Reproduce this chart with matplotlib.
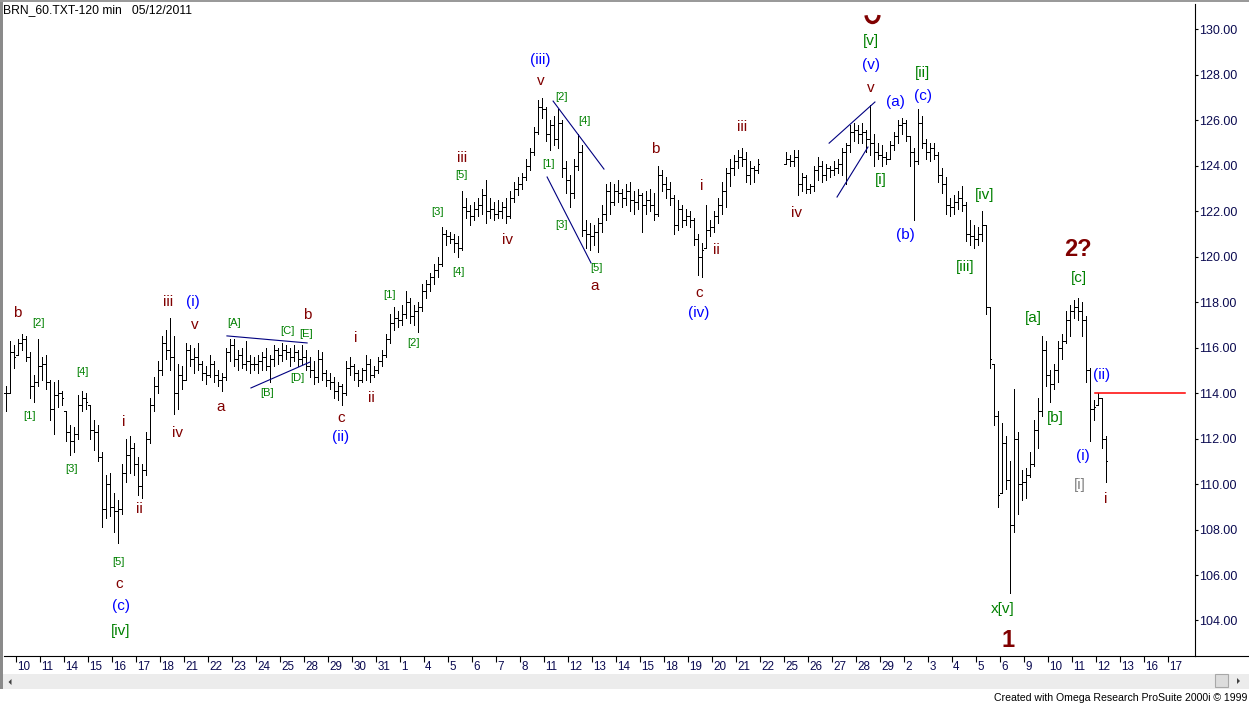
import matplotlib

matplotlib.use("Agg")
import matplotlib.pyplot as plt
import numpy as np
from matplotlib import font_manager
from matplotlib.collections import LineCollection
from matplotlib.lines import Line2D
from matplotlib.patches import Arc, Polygon, Rectangle
from matplotlib.transforms import ScaledTranslation


W, H = 1249, 705

TITLE = "BRN_60.TXT-120 min   05/12/2011"
CREDIT = "Created with Omega Research ProSuite 2000i \u00a9 1999"

# trading days on the x axis (10 Mar .. 17 May 2011)
DAY_LABELS = [
    "10", "11", "14", "15", "16", "17", "18", "21", "22", "23", "24", "25",
    "28", "29", "30", "31",
    "1", "4", "5", "6", "7", "8", "11", "12", "13", "14", "15", "18", "19",
    "20", "21", "22", "25", "26", "27", "28", "29",
    "2", "3", "4", "5", "6", "9", "10", "11", "12", "13", "16", "17",
]
Y_TICKS = [104, 106, 108, 110, 112, 114, 116, 118, 120, 122, 124, 126, 128, 130]

# bars per trading day and contiguous runs: (day index, first slot, bar count)
BARS_PER_DAY = 6
RUNS = [(-1, 3, 189), (32, 0, 81)]

HIGHS = [
    114.3, 116.3, 116.1,
    116.4, 116.6, 116.5, 115.8, 114.8, 116.4,
    115.6, 115.7, 114.6, 114.5, 114.6, 114.1,
    113.2, 112.6, 112.5, 113.9, 114.1, 114.0,
    113.5, 112.8, 112.6, 111.4, 110.4, 110.5,
    109.6, 109.3, 110.9, 112.0, 112.1, 111.8,
    111.2, 110.9, 112.3, 113.8, 114.7, 115.4,
    116.5, 116.8, 117.3, 116.5, 115.3, 115.2,
    116.2, 116.1, 116.0, 116.2, 115.4, 115.2,
    115.7, 115.4, 115.0, 114.9, 116.0, 116.4,
    116.4, 115.9, 116.0, 116.3, 115.7, 115.6,
    115.7, 115.8, 116.0, 115.7, 116.1, 116.0,
    116.2, 116.1, 116.0, 116.1, 115.9, 116.1,
    115.9, 115.6, 115.4, 115.9, 115.8, 115.0,
    114.9, 114.7, 114.5, 114.4, 115.4, 115.6,
    115.3, 115.0, 115.1, 115.7, 115.5, 115.2,
    115.6, 115.9, 116.6, 117.5, 117.8, 117.6,
    117.9, 118.5, 118.2, 117.9, 118.0, 118.8,
    119.0, 119.3, 119.7, 120.0, 121.3, 121.2,
    121.1, 121.0, 120.9, 122.9, 122.6, 122.3,
    122.4, 122.6, 123.0, 123.4, 122.6, 122.4,
    122.5, 122.4, 122.6, 122.9, 123.3, 123.5,
    123.7, 124.3, 124.8, 125.7, 126.9, 127.0,
    126.6, 126.0, 126.2, 126.5, 126.0, 124.2,
    123.6, 124.3, 125.4, 124.9, 121.6, 121.5,
    121.4, 121.7, 122.3, 123.2, 123.3, 123.2,
    123.4, 123.0, 123.2, 123.3, 122.9, 123.0,
    122.8, 122.9, 123.0, 122.8, 124.0, 123.8,
    123.5, 123.3, 122.7, 122.5, 122.3, 122.1,
    122.0, 121.7, 121.0, 120.6, 122.3, 121.6,
    122.0, 122.6, 123.3, 123.9, 124.3, 124.5,
    124.7, 124.8, 124.6, 124.2, 124.0, 124.3,
    # after Easter
    124.6, 124.5, 124.7, 124.7, 123.7, 123.6,
    123.2, 124.0, 124.4, 124.2, 124.1, 124.0,
    124.2, 124.3, 124.8, 125.0, 125.8, 125.9,
    125.8, 125.9, 125.6, 126.7, 125.4, 125.0,
    124.9, 124.6, 125.1, 125.5, 126.0, 126.1,
    126.0, 125.3, 124.8, 126.5, 126.2, 125.2,
    125.0, 125.0, 124.6, 123.9, 123.5, 122.6,
    122.7, 122.9, 123.1, 122.4, 121.6, 121.4,
    121.3, 122.0, 121.4, 117.8, 115.3, 113.2,
    112.7, 112.1, 111.0, 114.2, 112.3, 110.6,
    110.7, 111.4, 112.8, 113.8, 116.5, 116.3,
    115.0, 115.3, 116.3, 116.6, 117.6, 117.9,
    118.1, 118.2, 118.0, 117.4, 115.1, 113.7,
    114.0, 113.8, 112.1,
]

LOWS = [
    113.2, 114.0, 115.1,
    115.7, 115.9, 115.4, 113.8, 113.6, 114.3,
    114.6, 114.2, 112.8, 112.2, 113.4, 113.5,
    111.9, 111.3, 111.4, 112.0, 113.2, 113.3,
    112.0, 111.5, 111.0, 108.1, 108.5, 108.6,
    107.9, 107.4, 108.7, 110.1, 110.5, 110.4,
    109.5, 109.4, 110.4, 111.8, 113.2, 114.0,
    114.8, 115.5, 115.0, 113.1, 113.3, 114.2,
    114.6, 115.2, 114.9, 115.0, 114.6, 114.4,
    114.7, 114.5, 114.3, 114.1, 114.6, 115.4,
    115.2, 115.0, 115.1, 115.0, 114.9, 115.0,
    114.9, 115.0, 115.0, 114.5, 115.2, 115.3,
    115.4, 115.5, 115.2, 115.4, 115.2, 115.3,
    115.0, 114.7, 114.4, 114.5, 114.6, 114.3,
    114.2, 113.8, 113.7, 113.5, 113.9, 114.8,
    114.6, 114.3, 114.5, 114.6, 114.5, 114.7,
    114.9, 115.2, 115.6, 116.2, 116.8, 116.9,
    117.0, 117.3, 117.1, 117.0, 116.7, 117.6,
    118.2, 118.5, 118.8, 119.1, 119.6, 120.5,
    120.6, 120.2, 120.0, 120.3, 121.7, 121.4,
    121.6, 121.8, 121.9, 121.5, 121.7, 121.6,
    121.7, 121.7, 121.5, 121.7, 122.4, 122.7,
    123.0, 123.4, 123.8, 124.5, 125.4, 126.1,
    125.1, 124.7, 124.9, 124.8, 123.5, 122.8,
    122.2, 122.6, 123.8, 120.9, 120.4, 120.3,
    120.5, 120.2, 121.1, 121.6, 121.9, 122.3,
    122.4, 122.2, 122.3, 122.0, 121.9, 122.1,
    121.1, 121.9, 122.0, 121.6, 121.8, 122.9,
    122.6, 122.3, 121.0, 121.2, 121.3, 121.4,
    121.3, 120.5, 119.2, 119.1, 120.4, 120.9,
    121.1, 121.5, 121.9, 122.2, 123.1, 123.6,
    123.9, 124.0, 123.3, 123.2, 123.3, 123.7,
    # after Easter
    124.1, 124.0, 124.0, 122.7, 122.9, 122.8,
    122.8, 122.9, 123.4, 123.3, 123.4, 123.5,
    123.6, 123.7, 123.6, 123.2, 124.6, 125.1,
    125.0, 125.0, 124.6, 124.5, 124.0, 124.3,
    124.0, 124.1, 124.3, 124.7, 125.0, 125.4,
    125.1, 124.0, 121.6, 124.1, 124.8, 124.3,
    124.2, 124.3, 123.3, 122.8, 121.9, 121.8,
    121.9, 122.1, 122.0, 120.7, 120.5, 120.4,
    120.5, 120.7, 117.5, 115.1, 112.6, 109.0,
    109.6, 109.8, 105.2, 107.9, 108.7, 109.3,
    109.4, 110.3, 110.8, 111.6, 113.0, 114.3,
    113.6, 114.2, 114.5, 115.5, 116.2, 116.5,
    117.3, 117.2, 116.5, 114.5, 111.9, 112.8,
    113.5, 111.6, 110.1,
]

CLOSES = [
    114.0, 115.8, 115.6,
    116.2, 116.4, 115.6, 114.3, 114.5, 115.2,
    115.3, 114.5, 113.3, 113.9, 114.0, 113.8,
    112.3, 111.9, 112.2, 113.5, 113.8, 113.6,
    112.4, 112.3, 111.2, 108.9, 110.0, 109.0,
    108.8, 108.9, 110.5, 111.3, 111.6, 110.9,
    109.9, 110.6, 112.0, 113.5, 114.3, 115.0,
    116.2, 115.9, 115.6, 114.0, 114.8, 114.6,
    115.9, 115.5, 115.6, 115.3, 114.9, 114.8,
    115.3, 114.8, 114.6, 114.7, 115.8, 116.1,
    115.5, 115.7, 115.3, 115.4, 115.3, 115.3,
    115.4, 115.6, 115.2, 115.5, 115.9, 115.7,
    115.9, 115.8, 115.6, 115.8, 115.5, 115.6,
    115.2, 115.0, 114.7, 115.5, 114.9, 114.6,
    114.5, 114.1, 114.3, 114.0, 115.1, 115.2,
    114.9, 114.6, 115.0, 115.3, 114.8, 115.0,
    115.4, 115.7, 116.4, 117.1, 117.3, 117.2,
    117.5, 118.0, 117.4, 117.6, 117.8, 118.5,
    118.8, 119.1, 119.4, 119.7, 121.0, 120.9,
    120.8, 120.6, 120.4, 122.2, 122.0, 121.8,
    122.1, 122.3, 122.7, 122.0, 122.1, 121.9,
    122.0, 122.2, 121.8, 122.6, 123.0, 123.2,
    123.5, 124.0, 124.6, 125.5, 126.6, 126.5,
    125.4, 125.8, 125.2, 125.9, 123.9, 123.4,
    122.8, 124.0, 124.6, 121.2, 121.0, 120.9,
    121.1, 121.5, 121.9, 122.9, 122.4, 122.9,
    122.8, 122.6, 122.9, 122.5, 122.4, 122.7,
    122.3, 122.5, 122.3, 121.9, 123.6, 123.2,
    123.0, 122.6, 121.4, 122.1, 121.6, 121.8,
    121.6, 120.8, 120.0, 120.3, 121.2, 121.3,
    121.8, 122.3, 122.9, 123.7, 123.9, 124.2,
    124.4, 124.3, 123.6, 123.9, 123.8, 124.1,
    # after Easter
    124.3, 124.2, 124.4, 123.2, 123.5, 123.0,
    123.1, 123.8, 124.0, 123.6, 123.9, 123.8,
    123.9, 124.1, 124.6, 124.9, 125.5, 125.6,
    125.4, 125.5, 125.2, 125.0, 124.6, 124.5,
    124.4, 124.3, 124.9, 125.3, 125.8, 125.9,
    125.3, 124.6, 124.2, 125.9, 125.0, 124.6,
    124.8, 124.5, 123.6, 123.2, 122.3, 122.2,
    122.4, 122.6, 122.3, 121.0, 120.9, 120.8,
    121.0, 121.4, 117.8, 115.5, 113.0, 109.5,
    111.8, 110.2, 108.2, 112.0, 110.0, 110.1,
    110.4, 110.9, 112.4, 113.2, 115.9, 114.8,
    114.4, 115.0, 116.0, 116.3, 117.2, 117.6,
    117.8, 117.6, 117.2, 115.0, 113.3, 113.4,
    113.8, 112.0, 111.0,
]

# wave labels: (text, day position, price, style)
WAVE_LABELS = [
    ("b", 0.06, 117.53, "r"), ("[2]", 0.94, 117.09, "g"), ("[1]", 0.60, 113.0, "g"),
    ("[4]", 2.77, 114.93, "g"), ("[3]", 2.35, 110.66, "g"), ("[5]", 4.27, 106.57, "g"),
    ("c", 4.31, 105.60, "r"), ("(c)", 4.40, 104.64, "b"), ("[iv]", 4.40, 103.54, "G"),
    ("i", 4.52, 112.73, "r"), ("ii", 5.15, 108.90, "r"), ("iii", 6.35, 118.01, "r"),
    ("(i)", 7.40, 118.01, "b"), ("v", 7.48, 117.0, "r"), ("iv", 6.73, 112.25, "r"),
    ("a", 8.56, 113.39, "r"), ("[A]", 9.10, 117.09, "g"), ("[B]", 10.48, 114.01, "g"),
    ("[C]", 11.31, 116.74, "g"), ("[D]", 11.73, 114.67, "g"), ("[E]", 12.10, 116.60, "g"),
    ("b", 12.15, 117.44, "r"), ("i", 14.19, 116.43, "r"), ("ii", 14.81, 113.79, "r"),
    ("c", 13.56, 112.91, "r"), ("(ii)", 13.56, 112.07, "b"), ("[1]", 15.60, 118.32, "g"),
    ("[2]", 16.60, 116.21, "g"), ("[3]", 17.60, 121.97, "g"), ("[4]", 18.44, 119.33, "g"),
    ("[5]", 18.60, 123.60, "g"), ("iii", 18.60, 124.35, "r"), ("iv", 20.48, 120.74, "r"),
    ("(iii)", 21.85, 128.66, "b"), ("v", 21.90, 127.73, "r"), ("[2]", 22.77, 127.03, "g"),
    ("[4]", 23.69, 125.97, "g"), ("[1]", 22.19, 124.08, "g"), ("[3]", 22.77, 121.40, "g"),
    ("[5]", 24.19, 119.51, "g"), ("a", 24.15, 118.72, "r"), ("b", 26.65, 124.74, "r"),
    ("i", 28.60, 123.11, "r"), ("ii", 29.19, 120.30, "r"), ("c", 28.48, 118.41, "r"),
    ("(iv)", 28.48, 117.53, "b"), ("iii", 30.27, 125.71, "r"), ("iv", 32.56, 121.93, "r"),
    ("v", 35.65, 127.43, "r"), ("(v)", 35.65, 128.44, "b"), ("[v]", 35.65, 129.49, "G"),
    ("(a)", 36.65, 126.81, "b"), ("[ii]", 37.81, 128.09, "G"), ("(c)", 37.81, 127.07, "b"),
    ("[i]", 36.06, 123.38, "G"), ("(b)", 37.06, 120.96, "b"), ("[iv]", 40.40, 122.72, "G"),
    ("[iii]", 39.56, 119.55, "G"), ("2?", 44.27, 120.30, "R"), ("[c]", 44.31, 119.07, "G"),
    ("[a]", 42.40, 117.31, "G"), ("[b]", 43.31, 112.91, "G"), ("(ii)", 45.27, 114.80, "b"),
    ("(i)", 44.48, 111.24, "b"), ("[i]", 44.35, 109.96, "k"), ("i", 45.44, 109.34, "r"),
    ("x[v]", 41.15, 104.50, "G"), ("1", 41.35, 103.14, "R"),
]

# trend lines: (day0, price0, day1, price1)
TREND_LINES = [
    (8.81, 116.52, 12.15, 116.21),
    (9.81, 114.23, 12.27, 115.37),
    (22.40, 126.85, 24.52, 123.86),
    (22.15, 123.51, 23.98, 119.73),
    (33.90, 125.00, 35.81, 126.81),
    (34.23, 122.63, 35.52, 124.83),
]
RESISTANCE = (44.98, 48.73, 114.0)

STYLES = {
    "r": dict(color="#800000", fontsize=11),
    "b": dict(color="#0000FF", fontsize=11),
    "g": dict(color="#008000", fontsize=8),
    "G": dict(color="#008000", fontsize=11),
    "k": dict(color="#808080", fontsize=11),
    "R": dict(color="#800000", fontsize=17, fontweight="bold"),
}
TEXT_COLOR = "#0A0A50"


def px(x, y):
    # pixel position (from top-left) to figure fraction
    return x / W, 1 - y / H


def has_font(name):
    try:
        font_manager.findfont(name, fallback_to_default=False)
        return True
    except ValueError:
        return False


def plot_chart():
    plt.rcParams["font.family"] = ["Liberation Sans", "DejaVu Sans"]

    fig = plt.figure(figsize=(W / 100, H / 100), dpi=100)
    fig.patch.set_facecolor("white")

    left, right, top, bottom = 4, 1194.5, 4, 656
    ax = fig.add_axes([left / W, 1 - bottom / H, (right - left) / W, (bottom - top) / H])
    ax.set_facecolor("white")

    # day unit = 24 px, day 0 tick at x = 15.5 px
    ax.set_xlim((left - 15.5) / 24, (right - 15.5) / 24)
    ax.set_ylim(130 - (bottom - 29.5) / 22.73, 130 + (29.5 - top) / 22.73)

    xs = np.concatenate([
        day + (slot + 0.5 + np.arange(count)) / BARS_PER_DAY for day, slot, count in RUNS
    ])
    highs = np.array(HIGHS)
    lows = np.array(LOWS)
    closes = np.array(CLOSES)
    opens = np.clip(np.r_[closes[0], closes[:-1]], lows, highs)

    t = 1.8 / 24
    segs = []
    for x, o, h, l, c in zip(xs, opens, highs, lows, closes):
        segs.append([(x, l), (x, h)])
        segs.append([(x - t, o), (x, o)])
        segs.append([(x, c), (x + t, c)])
    ax.add_collection(LineCollection(segs, colors="black", linewidths=0.72, antialiaseds=False))

    for x0, y0, x1, y1 in TREND_LINES:
        ax.plot([x0, x1], [y0, y1], color="#000080", linewidth=0.8)
    x0, x1, level = RESISTANCE
    ax.plot([x0, x1], [level, level], color="#FF0000", linewidth=1.1)

    for text, x, y, style in WAVE_LABELS:
        ax.text(x, y, text, ha="center", va="center", **STYLES[style])

    # bottom of a big label cut off by the top edge
    fig.add_artist(Arc(px(872.5, 14.5), 13 / W, 16 / H, theta1=192, theta2=352,
                       transform=fig.transFigure, color="#800000", linewidth=2.4))

    # axes
    for side in ("left", "top"):
        ax.spines[side].set_visible(False)
    for side in ("right", "bottom"):
        ax.spines[side].set_color("black")
        ax.spines[side].set_linewidth(0.8)

    ax.set_xticks(np.arange(len(DAY_LABELS)))
    ax.set_xticklabels(DAY_LABELS, ha="left")
    ax.tick_params(axis="x", direction="out", length=4.3, width=0.8, pad=-0.5,
                   labelsize=8.4, labelcolor=TEXT_COLOR)
    shift = ScaledTranslation(1.2 / 72, 0, fig.dpi_scale_trans)
    for lbl in ax.get_xticklabels():
        lbl.set_transform(lbl.get_transform() + shift)

    ax.yaxis.tick_right()
    ax.set_yticks(Y_TICKS)
    ax.set_yticklabels([f"{v:.2f}" for v in Y_TICKS])
    ax.tick_params(axis="y", direction="out", length=2.5, width=0.8, pad=0.5,
                   labelsize=9, labelcolor=TEXT_COLOR)

    # bottom axis line runs on to the right edge
    fig.add_artist(Line2D([right / W, 1], [1 - bottom / H] * 2, color="black", linewidth=0.8))

    # window frame
    fig.add_artist(Rectangle(px(0, 2), 1, 2 / H, color="#9A9A9A", linewidth=0))
    fig.add_artist(Rectangle(px(0, 689), 2.5 / W, 687 / H, color="#8A8A8A", linewidth=0))

    # scroll bar
    fig.add_artist(Rectangle(px(3, 689), 1, 15 / H, color="#ECECEC", linewidth=0))
    fig.add_artist(Polygon([px(8.5, 682), px(11.5, 679), px(11.5, 685)], closed=True,
                           color="#404040", linewidth=0))
    fig.add_artist(Rectangle(px(1215, 687), 13 / W, 13 / H, facecolor="#DCDCDC",
                             edgecolor="#A8A8A8", linewidth=0.8))
    fig.add_artist(Polygon([px(1240, 681), px(1237, 678), px(1237, 684)], closed=True,
                           color="#404040", linewidth=0))

    fig.text(*px(3, 10.5), TITLE, ha="left", va="center", fontsize=8.7, color="black")
    if has_font("Liberation Sans Narrow"):
        fig.text(*px(1247, 698), CREDIT, ha="right", va="center", fontsize=9.2,
                 family="Liberation Sans Narrow", color="black")
    else:
        fig.text(*px(1247, 698), CREDIT, ha="right", va="center", fontsize=7.6, color="black")

    fig.savefig("out.png", dpi=100)
    plt.close(fig)


def main():
    plot_chart()


if __name__ == "__main__":
    main()
